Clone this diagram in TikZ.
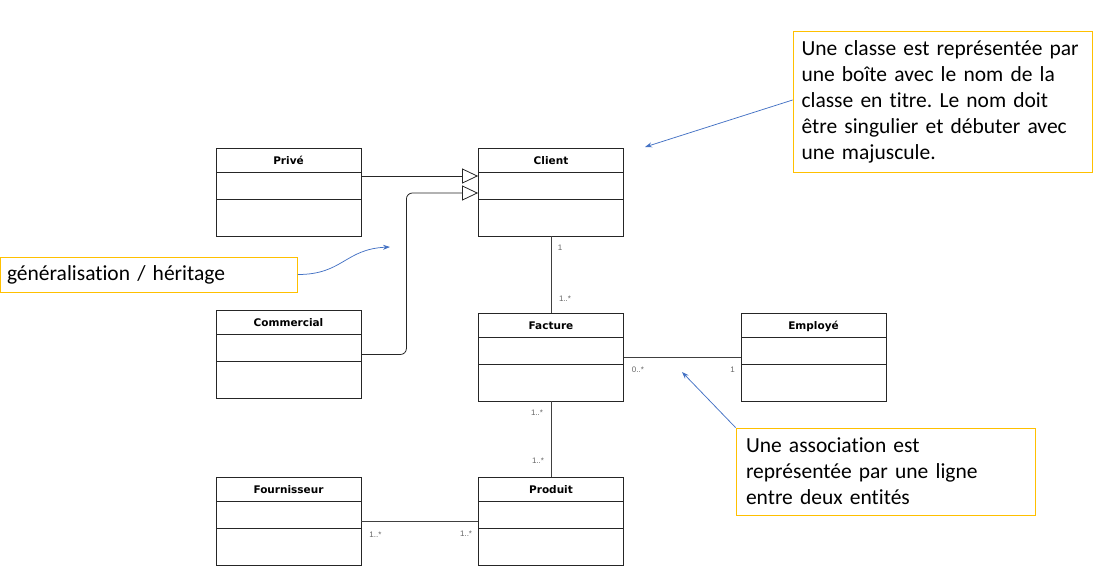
\documentclass[tikz,border=0pt]{standalone}
\usepackage{fontspec}
\usetikzlibrary{arrows.meta}
\newfontfamily\verdana{DejaVu Sans}
\newfontfamily\calibri[Ligatures=NoCommon]{Carlito}
\newfontfamily\arial{Liberation Sans}
\definecolor{notebord}{HTML}{FFC000}
\definecolor{fleche}{HTML}{4472C4}
\definecolor{multgris}{HTML}{666666}
\frenchspacing
\tikzset{
	classe/.style={draw=black!85, line width=0.8pt, fill=white, minimum width=145pt,
		inner ysep=0pt, text height=16pt, text depth=72pt,
		font=\verdana\fontsize{10.5}{12}\selectfont\bfseries,
		path picture={
			\draw[black!85, line width=0.8pt] ([yshift=-24pt]path picture bounding box.north west) -- ([yshift=-24pt]path picture bounding box.north east);
			\draw[black!85, line width=0.8pt] ([yshift=-51pt]path picture bounding box.north west) -- ([yshift=-51pt]path picture bounding box.north east);
		}},
	heritage/.style={draw=black!85, line width=0.8pt, -{Triangle[open, length=16pt, width=15pt]}},
	assoc/.style={draw=black!75, line width=0.8pt},
	mult/.style={inner sep=0pt, text=multgris, font=\arial\fontsize{8}{9}\selectfont},
	note/.style={draw=notebord, line width=0.8pt, align=left, fill=white,
		font=\calibri\fontsize{21.5}{26}\selectfont},
	fleche/.style={draw=fleche, line width=0.75pt, -{Stealth[length=7pt, width=5pt]}}
}
\begin{document}
\begin{tikzpicture}[x=1pt, y=-1pt]
				\useasboundingbox (0,0) rectangle (1107,574);
				
				\begin{scope}[every node/.style={classe}]
					\node (Prive) at (288.5,192) {Privé};
					\node (Client) at (551,192) {Client};
					\node (Commercial) at (288.5,354.5) {Commercial};
					\node (Facture) at (551,357) {Facture};
					\node (Employe) at (813.5,357) {Employé};
					\node (Fournisseur) at (288.5,521.5) {Fournisseur};
					\node (Produit) at (551,521.5) {Produit};
				\end{scope}
				
				\draw [heritage] ([yshift=16pt]Prive.east) -- ([yshift=16pt]Client.west);
				\draw [heritage, rounded corners=6pt] (Commercial.east) -- ++(45,0) |- ([yshift=-1pt]Client.west);
				
				\draw [assoc] (Client.south) -- (Facture.north)
					node[mult, pos=0, xshift=9pt, yshift=-11pt] (mClient) {1}
					node[mult, pos=1, xshift=14pt, yshift=14pt] (mFactureC) {1..*};
				\draw [assoc] (Facture.east) -- (Employe.west)
					node[mult, pos=0, xshift=14pt, yshift=-13pt] (mFactureE) {0..*}
					node[mult, pos=1, xshift=-8pt, yshift=-13pt] (mEmploye) {1};
				\draw [assoc] (Facture.south) -- (Produit.north)
					node[mult, pos=0, xshift=-14pt, yshift=-11pt] (mFactureP) {1..*}
					node[mult, pos=1, xshift=-13pt, yshift=16pt] (mProduitF) {1..*};
				\draw [assoc] (Fournisseur.east) -- (Produit.west)
					node[mult, pos=0, xshift=14pt, yshift=-13pt] (mFournisseur) {1..*}
					node[mult, pos=1, xshift=-12pt, yshift=-12pt] (mProduit) {1..*};
				
				\node[note, minimum width=299pt, minimum height=141pt, text width=282pt, inner xsep=8.5pt] (NoteClasse) at (942.5,101.5)
					{Une classe est représentée par\\une boîte avec le nom de la\\classe en titre. Le nom doit\\être singulier et débuter avec\\une majuscule.};
				\node[note, minimum width=297pt, minimum height=35pt, text width=284pt, inner xsep=6.5pt] (NoteHeritage) at (149,274.5)
					{généralisation / héritage};
				\node[note, minimum width=299pt, minimum height=87pt, text width=279pt, inner xsep=10pt] (NoteAssoc) at (885.5,471.5)
					{Une association est\\représentée par une ligne\\entre deux entités};
				
				\coordinate (ClassePointe) at (645,147);
				\coordinate (HeritagePointe) at (390,247);
				\coordinate (AssocPointe) at (682,372);
				\draw [fleche] ([yshift=1.5pt]NoteClasse.west) -- (ClassePointe);
				\draw [fleche] (NoteHeritage.east) .. controls +(45,0) and +(-45,2) .. (HeritagePointe);
				\draw [fleche] (NoteAssoc.north west) -- (AssocPointe);
			\end{tikzpicture}
\end{document}
